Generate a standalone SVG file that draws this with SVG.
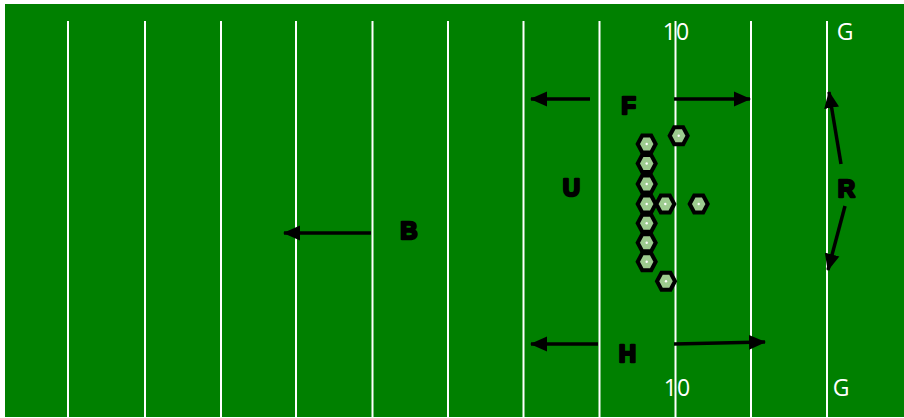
<svg xmlns="http://www.w3.org/2000/svg" width="904" height="418" viewBox="0 0 904 418">
<defs>
<marker id="ah" markerUnits="userSpaceOnUse" markerWidth="17" markerHeight="16" viewBox="0 0 17 16" refX="16" refY="8" orient="auto">
<path d="M0,0.5 L17,8 L0,15.5 Z" fill="#000"/>
</marker>
<polygon id="hex" points="-9,0 -4.5,-8.5 4.5,-8.5 9,0 4.5,8.5 -4.5,8.5"/>
</defs>
<style>
.yl{stroke:#fff;stroke-width:2}
.num{font-family:"Open Sans","Liberation Sans",sans-serif;font-size:23px;fill:#fff;text-anchor:middle}
.lbl{font-family:"Liberation Sans",Arial,sans-serif;font-weight:bold;font-size:24px;fill:#000;stroke:#000;stroke-width:2.4;stroke-linejoin:round;text-anchor:middle}
.arr{stroke:#000;stroke-width:3.5;fill:none;marker-end:url(#ah)}
.pl use{fill:#9dcb8f;stroke:#000;stroke-width:4;stroke-linejoin:miter}
.dot{fill:#fff}
</style>
<rect x="0" y="0" width="904" height="418" fill="#fff"/>
<rect id="field" x="5" y="4" width="899" height="413" fill="#008000"/>
<g id="yardlines">
<line class="yl" x1="68" y1="21" x2="68" y2="417"/>
<line class="yl" x1="145" y1="21" x2="145" y2="417"/>
<line class="yl" x1="221" y1="21" x2="221" y2="417"/>
<line class="yl" x1="296" y1="21" x2="296" y2="417"/>
<line class="yl" x1="372.5" y1="21" x2="372.5" y2="417"/>
<line class="yl" x1="448" y1="21" x2="448" y2="417"/>
<line class="yl" x1="523.5" y1="21" x2="523.5" y2="417"/>
<line class="yl" x1="599.5" y1="21" x2="599.5" y2="417"/>
<line class="yl" x1="675.5" y1="21" x2="675.5" y2="417"/>
<line class="yl" x1="751" y1="21" x2="751" y2="417"/>
<line class="yl" x1="827" y1="21" x2="827" y2="417"/>
</g>
<g id="numbers">
<text class="num" x="676" y="40">10</text>
<text class="num" x="845" y="40">G</text>
<text class="num" x="677" y="396">10</text>
<text class="num" x="841" y="396">G</text>
</g>
<g id="connectors">
<line class="arr" x1="590" y1="99" x2="531" y2="99"/>
<line class="arr" x1="674" y1="99" x2="750" y2="99"/>
<line class="arr" x1="598" y1="344" x2="531" y2="344"/>
<line class="arr" x1="674" y1="344" x2="765" y2="342"/>
<line class="arr" x1="371" y1="233" x2="284" y2="233"/>
<line class="arr" x1="841" y1="164" x2="829" y2="92"/>
<line class="arr" x1="845" y1="206" x2="828" y2="270"/>
</g>
<g id="label-F"><text class="lbl" x="628.5" y="114">F</text></g>
<g id="label-H"><text class="lbl" x="627.5" y="362">H</text></g>
<g id="label-B"><text class="lbl" x="409" y="239">B</text></g>
<g id="label-U"><text class="lbl" x="571.5" y="196">U</text></g>
<g id="label-R"><text class="lbl" x="846.5" y="197">R</text></g>
<g id="players" class="pl">
<g id="p1"><use href="#hex" x="678.7" y="135.7"/><circle class="dot" cx="678.7" cy="135.7" r="1.2"/></g>
<g id="p2"><use href="#hex" x="646.7" y="144"/><circle class="dot" cx="646.7" cy="144" r="1.2"/></g>
<g id="p3"><use href="#hex" x="646.7" y="163.5"/><circle class="dot" cx="646.7" cy="163.5" r="1.2"/></g>
<g id="p4"><use href="#hex" x="646.7" y="184"/><circle class="dot" cx="646.7" cy="184" r="1.2"/></g>
<g id="p5"><use href="#hex" x="646.7" y="204"/><circle class="dot" cx="646.7" cy="204" r="1.2"/></g>
<g id="p6"><use href="#hex" x="665.3" y="204"/><circle class="dot" cx="665.3" cy="204" r="1.2"/></g>
<g id="p7"><use href="#hex" x="698.7" y="204"/><circle class="dot" cx="698.7" cy="204" r="1.2"/></g>
<g id="p8"><use href="#hex" x="646.7" y="223.3"/><circle class="dot" cx="646.7" cy="223.3" r="1.2"/></g>
<g id="p9"><use href="#hex" x="646.7" y="242.7"/><circle class="dot" cx="646.7" cy="242.7" r="1.2"/></g>
<g id="p10"><use href="#hex" x="646.7" y="261.7"/><circle class="dot" cx="646.7" cy="261.7" r="1.2"/></g>
<g id="p11"><use href="#hex" x="666" y="281.3"/><circle class="dot" cx="666" cy="281.3" r="1.2"/></g>
</g>
</svg>
